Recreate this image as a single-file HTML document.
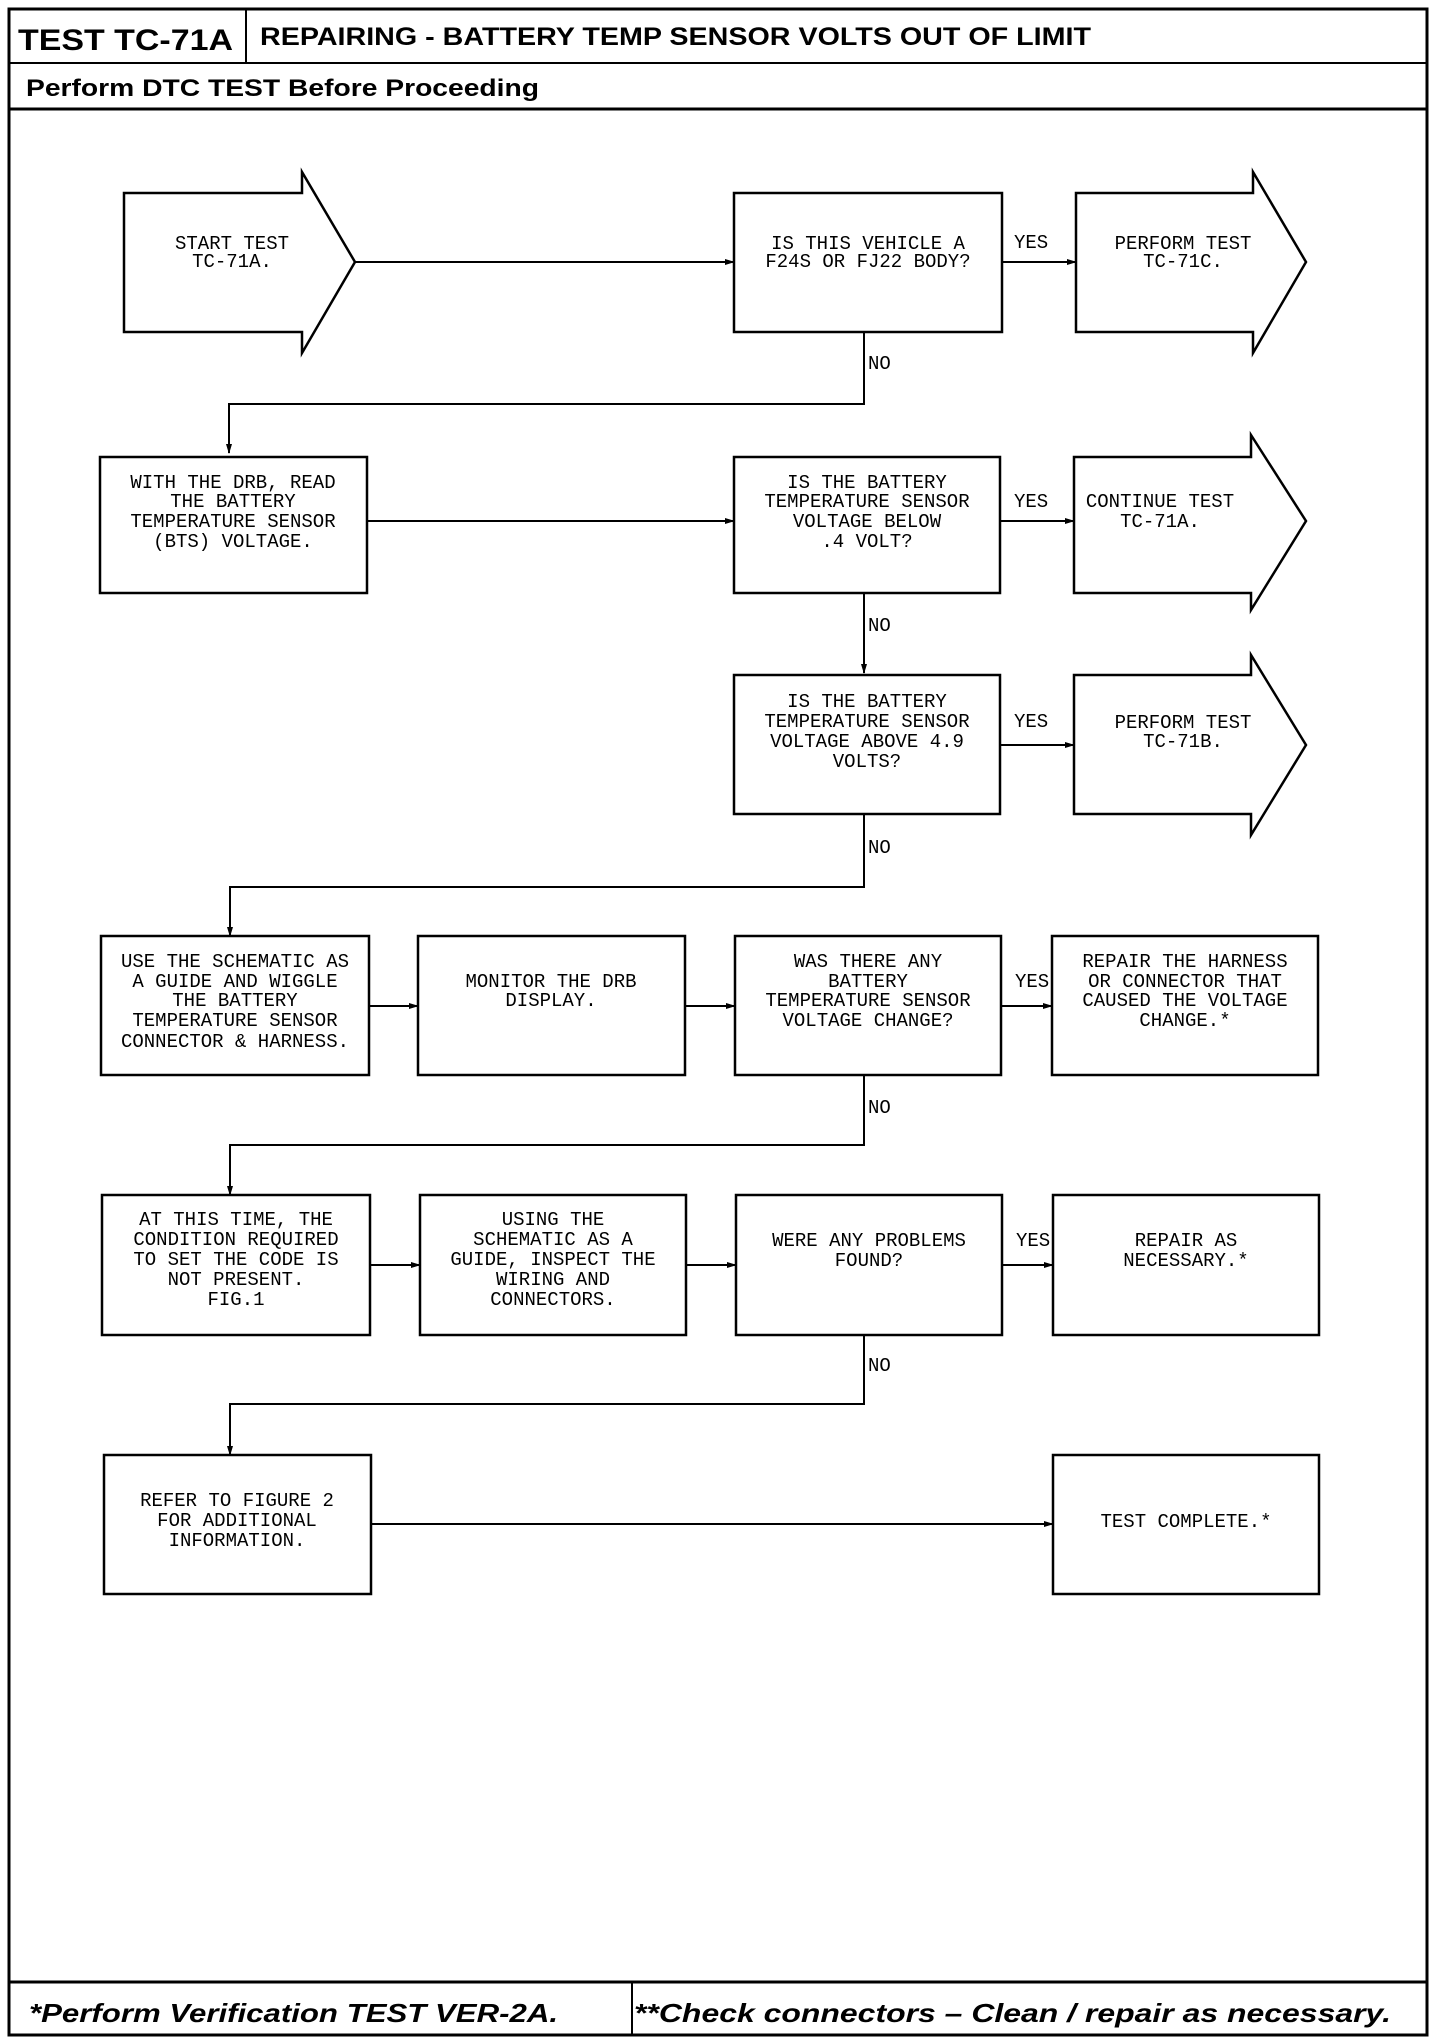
<!DOCTYPE html>
<html><head><meta charset="utf-8"><style>
html,body{margin:0;padding:0;background:#fff}
svg{display:block}
.t{font-family:"Liberation Mono",monospace;font-size:19px;fill:#000;text-anchor:middle}
.l{font-family:"Liberation Mono",monospace;font-size:19px;fill:#000}
.b{fill:#fff;stroke:#000;stroke-width:2.5}
.c{stroke:#000;stroke-width:2;fill:none}
.h{font-family:"Liberation Sans",sans-serif;font-weight:bold;fill:#000}
</style></head><body>
<svg width="1440" height="2044" viewBox="0 0 1440 2044">
<defs><marker id="a" markerWidth="10" markerHeight="8" refX="9" refY="4" orient="auto" markerUnits="userSpaceOnUse"><path d="M0,1 L10,4 L0,7 z" fill="#000"/></marker></defs>
<!-- frame -->
<rect x="9" y="9" width="1418" height="2026" fill="none" stroke="#000" stroke-width="3"/>
<line x1="9" y1="63" x2="1427" y2="63" stroke="#000" stroke-width="2"/>
<line x1="9" y1="109" x2="1427" y2="109" stroke="#000" stroke-width="3"/>
<line x1="246" y1="9" x2="246" y2="63" stroke="#000" stroke-width="2"/>
<line x1="9" y1="1982" x2="1427" y2="1982" stroke="#000" stroke-width="3"/>
<line x1="632" y1="1982" x2="632" y2="2035" stroke="#000" stroke-width="2"/>
<text class="h" x="18" y="50" font-size="30" textLength="215" lengthAdjust="spacingAndGlyphs">TEST TC-71A</text>
<text class="h" x="260" y="45" font-size="25" textLength="831" lengthAdjust="spacingAndGlyphs">REPAIRING - BATTERY TEMP SENSOR VOLTS OUT OF LIMIT</text>
<text class="h" x="26" y="96" font-size="24" textLength="513" lengthAdjust="spacingAndGlyphs">Perform DTC TEST Before Proceeding</text>
<text class="h" x="29" y="2022" font-size="26" font-style="italic" textLength="529" lengthAdjust="spacingAndGlyphs">*Perform Verification TEST VER-2A.</text>
<text class="h" x="634" y="2022" font-size="26" font-style="italic" textLength="757" lengthAdjust="spacingAndGlyphs">**Check connectors – Clean / repair as necessary.</text>

<!-- row1 -->
<path class="b" d="M124,193 H302 V172 L355,262 L302,353 V332 H124 Z"/>
<text class="t" x="232" y="249">START TEST</text><text class="t" x="232" y="267">TC-71A.</text>
<line class="c" x1="355" y1="262" x2="734" y2="262" marker-end="url(#a)"/>
<rect class="b" x="734" y="193" width="268" height="139"/>
<text class="t" x="868" y="249">IS THIS VEHICLE A</text><text class="t" x="868" y="267">F24S OR FJ22 BODY?</text>
<line class="c" x1="1002" y1="262" x2="1076" y2="262" marker-end="url(#a)"/>
<text class="l" x="1014" y="248">YES</text>
<path class="b" d="M1076,193 H1253 V172 L1306,262 L1253,353 V332 H1076 Z"/>
<text class="t" x="1183" y="249">PERFORM TEST</text><text class="t" x="1183" y="267">TC-71C.</text>
<polyline class="c" points="864,332 864,404 229,404 229,453" marker-end="url(#a)"/>
<text class="l" x="868" y="369">NO</text>

<!-- row2 -->
<rect class="b" x="100" y="457" width="267" height="136"/>
<text class="t" x="233" y="488">WITH THE DRB, READ</text><text class="t" x="233" y="507">THE BATTERY</text><text class="t" x="233" y="527">TEMPERATURE SENSOR</text><text class="t" x="233" y="547">(BTS) VOLTAGE.</text>
<line class="c" x1="367" y1="521" x2="734" y2="521" marker-end="url(#a)"/>
<rect class="b" x="734" y="457" width="266" height="136"/>
<text class="t" x="867" y="488">IS THE BATTERY</text><text class="t" x="867" y="507">TEMPERATURE SENSOR</text><text class="t" x="867" y="527">VOLTAGE BELOW</text><text class="t" x="867" y="547">.4 VOLT?</text>
<line class="c" x1="1000" y1="521" x2="1074" y2="521" marker-end="url(#a)"/>
<text class="l" x="1014" y="507">YES</text>
<path class="b" d="M1074,457 H1251 V435 L1306,521 L1251,610 V593 H1074 Z"/>
<text class="t" x="1160" y="507">CONTINUE TEST</text><text class="t" x="1160" y="527" text-anchor="start" x="1100">TC-71A.</text>
<line class="c" x1="864" y1="593" x2="864" y2="673" marker-end="url(#a)"/>
<text class="l" x="868" y="631">NO</text>

<!-- row3 -->
<rect class="b" x="734" y="675" width="266" height="139"/>
<text class="t" x="867" y="707">IS THE BATTERY</text><text class="t" x="867" y="727">TEMPERATURE SENSOR</text><text class="t" x="867" y="747">VOLTAGE ABOVE 4.9</text><text class="t" x="867" y="767">VOLTS?</text>
<line class="c" x1="1000" y1="745" x2="1074" y2="745" marker-end="url(#a)"/>
<text class="l" x="1014" y="727">YES</text>
<path class="b" d="M1074,675 H1251 V655 L1306,745 L1251,835 V814 H1074 Z"/>
<text class="t" x="1183" y="728">PERFORM TEST</text><text class="t" x="1183" y="747">TC-71B.</text>
<polyline class="c" points="864,814 864,887 230,887 230,936" marker-end="url(#a)"/>
<text class="l" x="868" y="853">NO</text>

<!-- row4 -->
<rect class="b" x="101" y="936" width="268" height="139"/>
<text class="t" x="235" y="967">USE THE SCHEMATIC AS</text><text class="t" x="235" y="987">A GUIDE AND WIGGLE</text><text class="t" x="235" y="1006">THE BATTERY</text><text class="t" x="235" y="1026">TEMPERATURE SENSOR</text><text class="t" x="235" y="1047">CONNECTOR &amp; HARNESS.</text>
<line class="c" x1="369" y1="1006" x2="418" y2="1006" marker-end="url(#a)"/>
<rect class="b" x="418" y="936" width="267" height="139"/>
<text class="t" x="551" y="987">MONITOR THE DRB</text><text class="t" x="551" y="1006">DISPLAY.</text>
<line class="c" x1="685" y1="1006" x2="735" y2="1006" marker-end="url(#a)"/>
<rect class="b" x="735" y="936" width="266" height="139"/>
<text class="t" x="868" y="967">WAS THERE ANY</text><text class="t" x="868" y="987">BATTERY</text><text class="t" x="868" y="1006">TEMPERATURE SENSOR</text><text class="t" x="868" y="1026">VOLTAGE CHANGE?</text>
<line class="c" x1="1001" y1="1006" x2="1052" y2="1006" marker-end="url(#a)"/>
<text class="l" x="1015" y="987">YES</text>
<rect class="b" x="1052" y="936" width="266" height="139"/>
<text class="t" x="1185" y="967">REPAIR THE HARNESS</text><text class="t" x="1185" y="987">OR CONNECTOR THAT</text><text class="t" x="1185" y="1006">CAUSED THE VOLTAGE</text><text class="t" x="1185" y="1026">CHANGE.*</text>
<polyline class="c" points="864,1075 864,1145 230,1145 230,1195" marker-end="url(#a)"/>
<text class="l" x="868" y="1113">NO</text>

<!-- row5 -->
<rect class="b" x="102" y="1195" width="268" height="140"/>
<text class="t" x="236" y="1225">AT THIS TIME, THE</text><text class="t" x="236" y="1245">CONDITION REQUIRED</text><text class="t" x="236" y="1265">TO SET THE CODE IS</text><text class="t" x="236" y="1285">NOT PRESENT.</text><text class="t" x="236" y="1305">FIG.1</text>
<line class="c" x1="370" y1="1265" x2="420" y2="1265" marker-end="url(#a)"/>
<rect class="b" x="420" y="1195" width="266" height="140"/>
<text class="t" x="553" y="1225">USING THE</text><text class="t" x="553" y="1245">SCHEMATIC AS A</text><text class="t" x="553" y="1265">GUIDE, INSPECT THE</text><text class="t" x="553" y="1285">WIRING AND</text><text class="t" x="553" y="1305">CONNECTORS.</text>
<line class="c" x1="686" y1="1265" x2="736" y2="1265" marker-end="url(#a)"/>
<rect class="b" x="736" y="1195" width="266" height="140"/>
<text class="t" x="869" y="1246">WERE ANY PROBLEMS</text><text class="t" x="869" y="1266">FOUND?</text>
<line class="c" x1="1002" y1="1265" x2="1053" y2="1265" marker-end="url(#a)"/>
<text class="l" x="1016" y="1246">YES</text>
<rect class="b" x="1053" y="1195" width="266" height="140"/>
<text class="t" x="1186" y="1246">REPAIR AS</text><text class="t" x="1186" y="1266">NECESSARY.*</text>
<polyline class="c" points="864,1335 864,1404 230,1404 230,1455" marker-end="url(#a)"/>
<text class="l" x="868" y="1371">NO</text>

<!-- row6 -->
<rect class="b" x="104" y="1455" width="267" height="139"/>
<text class="t" x="237" y="1506">REFER TO FIGURE 2</text><text class="t" x="237" y="1526">FOR ADDITIONAL</text><text class="t" x="237" y="1546">INFORMATION.</text>
<line class="c" x1="371" y1="1524" x2="1053" y2="1524" marker-end="url(#a)"/>
<rect class="b" x="1053" y="1455" width="266" height="139"/>
<text class="t" x="1186" y="1527">TEST COMPLETE.*</text>
</svg>
</body></html>
